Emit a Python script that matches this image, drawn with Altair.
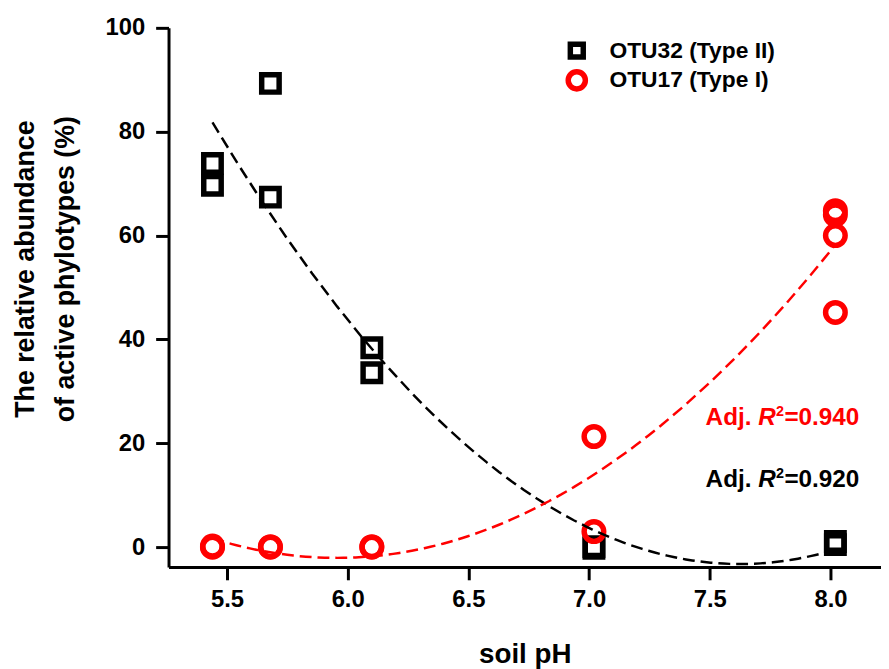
import altair as alt
import pandas as pd

series_names = ["OTU32 (Type II)", "OTU17 (Type I)"]
series_colors = ["#000000", "#ff0000"]
series_shapes = ["square", "circle"]

otu32_ph = [5.44, 5.44, 5.68, 5.68, 6.10, 6.10, 7.02, 7.02, 8.02, 8.02]
otu32_val = [73.9, 69.7, 89.3, 67.4, 38.4, 33.6, -0.2, 0.1, 0.5, 1.1]

otu17_ph = [5.44, 5.44, 5.68, 5.68, 6.10, 6.10, 7.02, 7.02, 8.02, 8.02, 8.02, 8.02]
otu17_val = [0.2, 0.0, 0.1, 0.0, 0.1, 0.0, 21.3, 3.0, 64.8, 64.0, 60.0, 45.2]

x_ticks = [5.5, 6.0, 6.5, 7.0, 7.5, 8.0]
y_ticks = [0, 20, 40, 60, 80, 100]

FONT = "Liberation Sans"

df = pd.DataFrame({
    "pH": otu32_ph + otu17_ph,
    "value": otu32_val + otu17_val,
    "series": [series_names[0]] * len(otu32_ph) + [series_names[1]] * len(otu17_ph),
    "ord": list(range(len(otu32_ph) + len(otu17_ph))),
})

xscale = alt.Scale(domain=[5.258, 8.209], nice=False, zero=False)
yscale = alt.Scale(domain=[-3.8, 100], nice=False, zero=False)
color_scale = alt.Scale(domain=series_names, range=series_colors)
shape_scale = alt.Scale(domain=series_names, range=series_shapes)

xaxis = alt.Axis(
    values=x_ticks, format=".1f", title="soil pH", grid=False,
    labelFont=FONT, labelFontSize=24, labelFontWeight="bold", labelColor="#000",
    labelPadding=8, tickSize=13, tickWidth=3, tickColor="#000",
    domainWidth=3, domainColor="#000",
    titleFont=FONT, titleFontSize=28, titleFontWeight="bold", titleColor="#000",
    titleY=96, titleBaseline="alphabetic",
)
yaxis = alt.Axis(
    values=y_ticks, format="d", grid=False,
    title=["The relative abundance", "of active phylotypes (%)"],
    labelFont=FONT, labelFontSize=24, labelFontWeight="bold", labelColor="#000",
    labelPadding=11, tickSize=13, tickWidth=3, tickColor="#000",
    domainWidth=3, domainColor="#000",
    titleFont=FONT, titleFontSize=27, titleFontWeight="bold", titleColor="#000",
    titleLineHeight=40, titleX=-136, titleY=243, titleAlign="center",
    titleBaseline="alphabetic", titleAngle=270,
)


def point_layer(name, size):
    return alt.Chart(df).transform_filter(
        alt.datum.series == name
    ).mark_point(filled=False, size=size, strokeWidth=5.5, opacity=1).encode(
        x=alt.X("pH:Q", scale=xscale, axis=xaxis),
        y=alt.Y("value:Q", scale=yscale, axis=yaxis),
        color=alt.Color("series:N", scale=color_scale, legend=None),
        shape=alt.Shape("series:N", scale=shape_scale, legend=None),
        order=alt.Order("ord:Q"),
    )


squares = point_layer(series_names[0], 310)
circles = point_layer(series_names[1], 390)

lines = alt.Chart(df).transform_regression(
    "pH", "value", groupby=["series"], method="poly", order=2
).mark_line(strokeDash=[12, 6], strokeWidth=2.5).encode(
    x=alt.X("pH:Q", scale=xscale),
    y=alt.Y("value:Q", scale=yscale),
    color=alt.Color("series:N", scale=color_scale, legend=None),
)


def txt(label, px, py, color, size=24.5, style="normal"):
    return alt.Chart(pd.DataFrame({"t": [label]})).mark_text(
        font=FONT, fontSize=size, fontWeight="bold", fontStyle=style,
        align="left", baseline="alphabetic", color=color,
    ).encode(text="t:N", x=alt.value(px), y=alt.value(py))


def r2(value_text, px, py, color):
    return [
        txt("Adj.", px, py, color),
        txt("R", px + 53, py, color, style="italic"),
        txt("2", px + 71, py - 9, color, size=14.5),
        txt("=" + value_text, px + 79.5, py, color),
    ]


def legend_entry(name, shape, color, py, size):
    sym = alt.Chart(pd.DataFrame({"t": [name]})).mark_point(
        filled=False, strokeWidth=5.5, opacity=1, size=size,
    ).encode(x=alt.value(412), y=alt.value(py), shape=alt.value(shape), color=alt.value(color))
    lab = alt.Chart(pd.DataFrame({"t": [name]})).mark_text(
        font=FONT, fontSize=23, fontWeight="bold", align="left",
        baseline="middle", color="#000",
    ).encode(text="t:N", x=alt.value(445), y=alt.value(py))
    return [sym, lab]


annots = r2("0.940", 542, 400.5, "#ff0000") + r2("0.920", 542, 463.5, "#000000")
legend_marks = (legend_entry(series_names[0], series_shapes[0], series_colors[0], 23, 170)
                + legend_entry(series_names[1], series_shapes[1], series_colors[1], 53, 300))

chart = alt.layer(squares, circles, lines, *annots, *legend_marks).properties(
    width=719, height=544,
    padding={"left": 162, "top": 17, "right": 0, "bottom": 100},
    autosize=alt.AutoSizeParams(type="none"),
    background="white",
).configure_view(stroke=None)

chart.save("out.html", embed_options={"renderer": "svg", "actions": False})
